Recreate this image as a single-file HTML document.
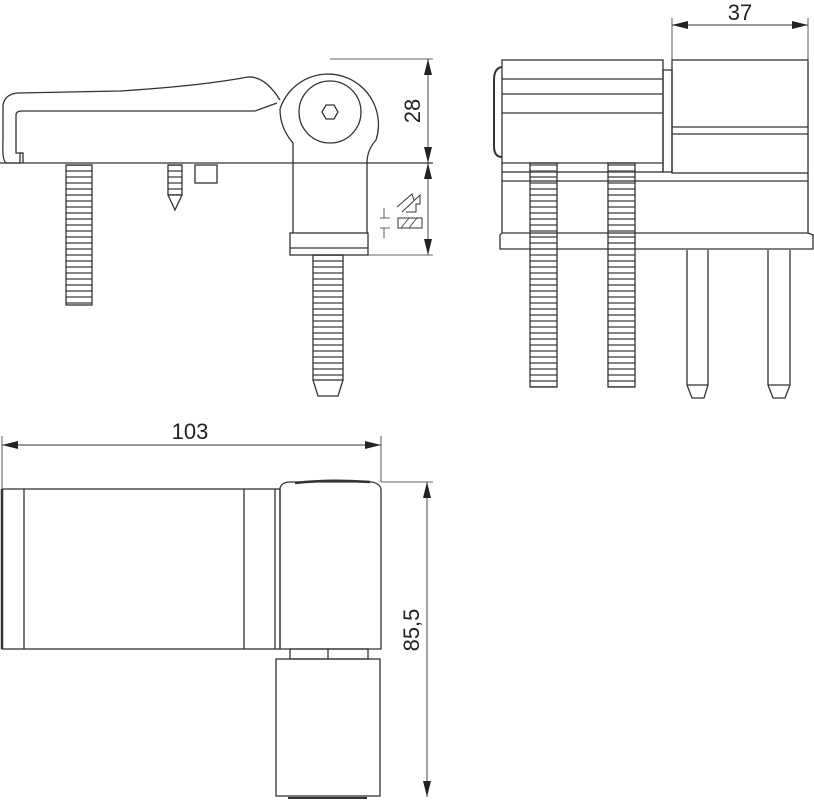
<!DOCTYPE html>
<html><head><meta charset="utf-8"><style>html,body{margin:0;padding:0;background:#fff}svg{display:block}</style></head>
<body>
<svg width="814" height="800" viewBox="0 0 814 800" xmlns="http://www.w3.org/2000/svg" fill="none" stroke="#333" stroke-width="1.3" font-family="Liberation Sans, sans-serif">
<defs>
<marker id="a" viewBox="0 0 10 10" refX="10" refY="5" markerWidth="16" markerHeight="8" preserveAspectRatio="none" orient="auto-start-reverse" markerUnits="userSpaceOnUse"><path d="M0,0L10,5L0,10z" fill="#222" stroke="none"/></marker>
<pattern id="thr" width="8" height="6" patternUnits="userSpaceOnUse"><line x1="0" y1="3" x2="8" y2="3" stroke="#666" stroke-width="1.6"/></pattern>
</defs>

<path d="M20,163 L6,163 Q2,160 3,140 L3,105 Q5,94 18,93 L120,91 Q200,86 248,77 Q265,76 280,100"/>
<path d="M20,163 L20,153 L23,153 L23,163"/>
<path d="M23,153 L16,153 L16,115 Q16,111 22,111 L255,111 L277,103"/>
<line x1="0" y1="163" x2="433" y2="163"/>
<path d="M293,163 L293,143 Q280,128 280,109 A50,50 0 1 1 376,140 Q367,150 367,163"/>
<circle cx="330" cy="112" r="31"/>
<polygon points="322,112 326,105 334,105 338,112 334,119 326,119"/>
<path d="M293,163 L293,233 M367,163 L367,233"/>
<rect x="290" y="233" width="78" height="22"/>
<line x1="290" y1="248" x2="368" y2="248"/>
<rect x="313" y="255" width="30" height="125" fill="url(#thr)"/>
<path d="M313,380 L318,396 L338,396 L343,380"/>
<rect x="66" y="165" width="26" height="140" fill="url(#thr)"/>
<rect x="168" y="165" width="14" height="30" fill="url(#thr)"/>
<path d="M168,195 L175,210 L182,195"/>
<rect x="195" y="165" width="22" height="18"/>
<path d="M397,207 L412,194 L414,200 M402,212 L420,195 L420,204 L416,204 L416,212 L406,212" stroke-width="1"/>
<rect x="398" y="218" width="24" height="10" stroke-width="1"/>
<path d="M401,228 L409,218 M409,228 L417,218" stroke-width="0.8"/>
<path d="M380,218 L390,218 M380,228 L390,228 M384,208 L384,218 M384,228 L384,238" stroke-width="0.8"/>
<line x1="330" y1="59" x2="433" y2="59" stroke-width="0.8"/>
<line x1="368" y1="255" x2="433" y2="255" stroke-width="0.8"/>
<line x1="428" y1="59" x2="428" y2="163" marker-start="url(#a)" marker-end="url(#a)" stroke-width="0.9"/>
<line x1="428" y1="163" x2="428" y2="255" marker-start="url(#a)" marker-end="url(#a)" stroke-width="0.9"/>
<text x="420" y="111" transform="rotate(-90 420 111)" fill="#222" stroke="none" font-size="22" text-anchor="middle">28</text>

<line x1="672" y1="18" x2="672" y2="170" stroke-width="0.8"/>
<line x1="808" y1="18" x2="808" y2="60" stroke-width="0.8"/>
<line x1="672" y1="25" x2="808" y2="25" marker-start="url(#a)" marker-end="url(#a)" stroke-width="0.9"/>
<text x="740" y="20" fill="#222" stroke="none" font-size="22" text-anchor="middle">37</text>
<rect x="502" y="60" width="161" height="112"/>
<line x1="502" y1="79" x2="663" y2="79"/>
<line x1="502" y1="94" x2="663" y2="94"/>
<line x1="502" y1="113" x2="663" y2="113"/>
<line x1="502" y1="163" x2="663" y2="163"/>
<path d="M502,67 Q494,68 494,80 L494,146 Q494,157 502,157" stroke-width="2"/>
<rect x="663" y="70" width="9" height="102"/>
<rect x="672" y="60" width="136" height="113"/>
<line x1="672" y1="127" x2="808" y2="127"/>
<line x1="672" y1="134" x2="808" y2="134"/>
<path d="M502,172 L502,233 M808,173 L808,233 M502,181 L808,181"/>
<path d="M502,233 L808,233 L813,235 L813,249 L500,249 L500,235 Z"/>
<rect x="530" y="163" width="27" height="224" fill="url(#thr)"/>
<rect x="608" y="163" width="27" height="224" fill="url(#thr)"/>
<path d="M687,250 L687,385 L692,398 L704,398 L708,385 L708,250 M687,385 L708,385"/>
<path d="M768,250 L768,385 L773,398 L785,398 L790,385 L790,250 M768,385 L790,385"/>

<line x1="2" y1="436" x2="2" y2="488" stroke-width="0.8"/>
<line x1="381" y1="436" x2="381" y2="482" stroke-width="0.8"/>
<line x1="2" y1="445" x2="381" y2="445" marker-start="url(#a)" marker-end="url(#a)" stroke-width="0.9"/>
<text x="190" y="439" fill="#222" stroke="none" font-size="22" text-anchor="middle">103</text>
<rect x="2" y="489" width="278" height="160"/>
<line x1="2" y1="489" x2="2" y2="649" stroke-width="2.5"/>
<line x1="24" y1="489" x2="24" y2="649"/>
<line x1="244" y1="489" x2="244" y2="649"/>
<line x1="275" y1="489" x2="275" y2="649"/>
<path d="M280,649 L280,488 Q282,482 290,482 L372,482 Q381,484 381,490 L381,649 Z"/>
<path d="M295,483 Q330,479 370,482" stroke-width="2.5"/>
<rect x="290" y="649" width="78" height="10"/>
<line x1="328" y1="649" x2="328" y2="659"/>
<rect x="276" y="659" width="104" height="137"/>
<line x1="288" y1="798" x2="367" y2="798" stroke-width="2"/>
<line x1="381" y1="482" x2="433" y2="482" stroke-width="0.8"/>
<line x1="427" y1="482" x2="427" y2="797" marker-start="url(#a)" marker-end="url(#a)" stroke-width="0.9"/>
<text x="419" y="630" transform="rotate(-90 419 630)" fill="#222" stroke="none" font-size="22" text-anchor="middle">85,5</text>
</svg>
</body></html>
